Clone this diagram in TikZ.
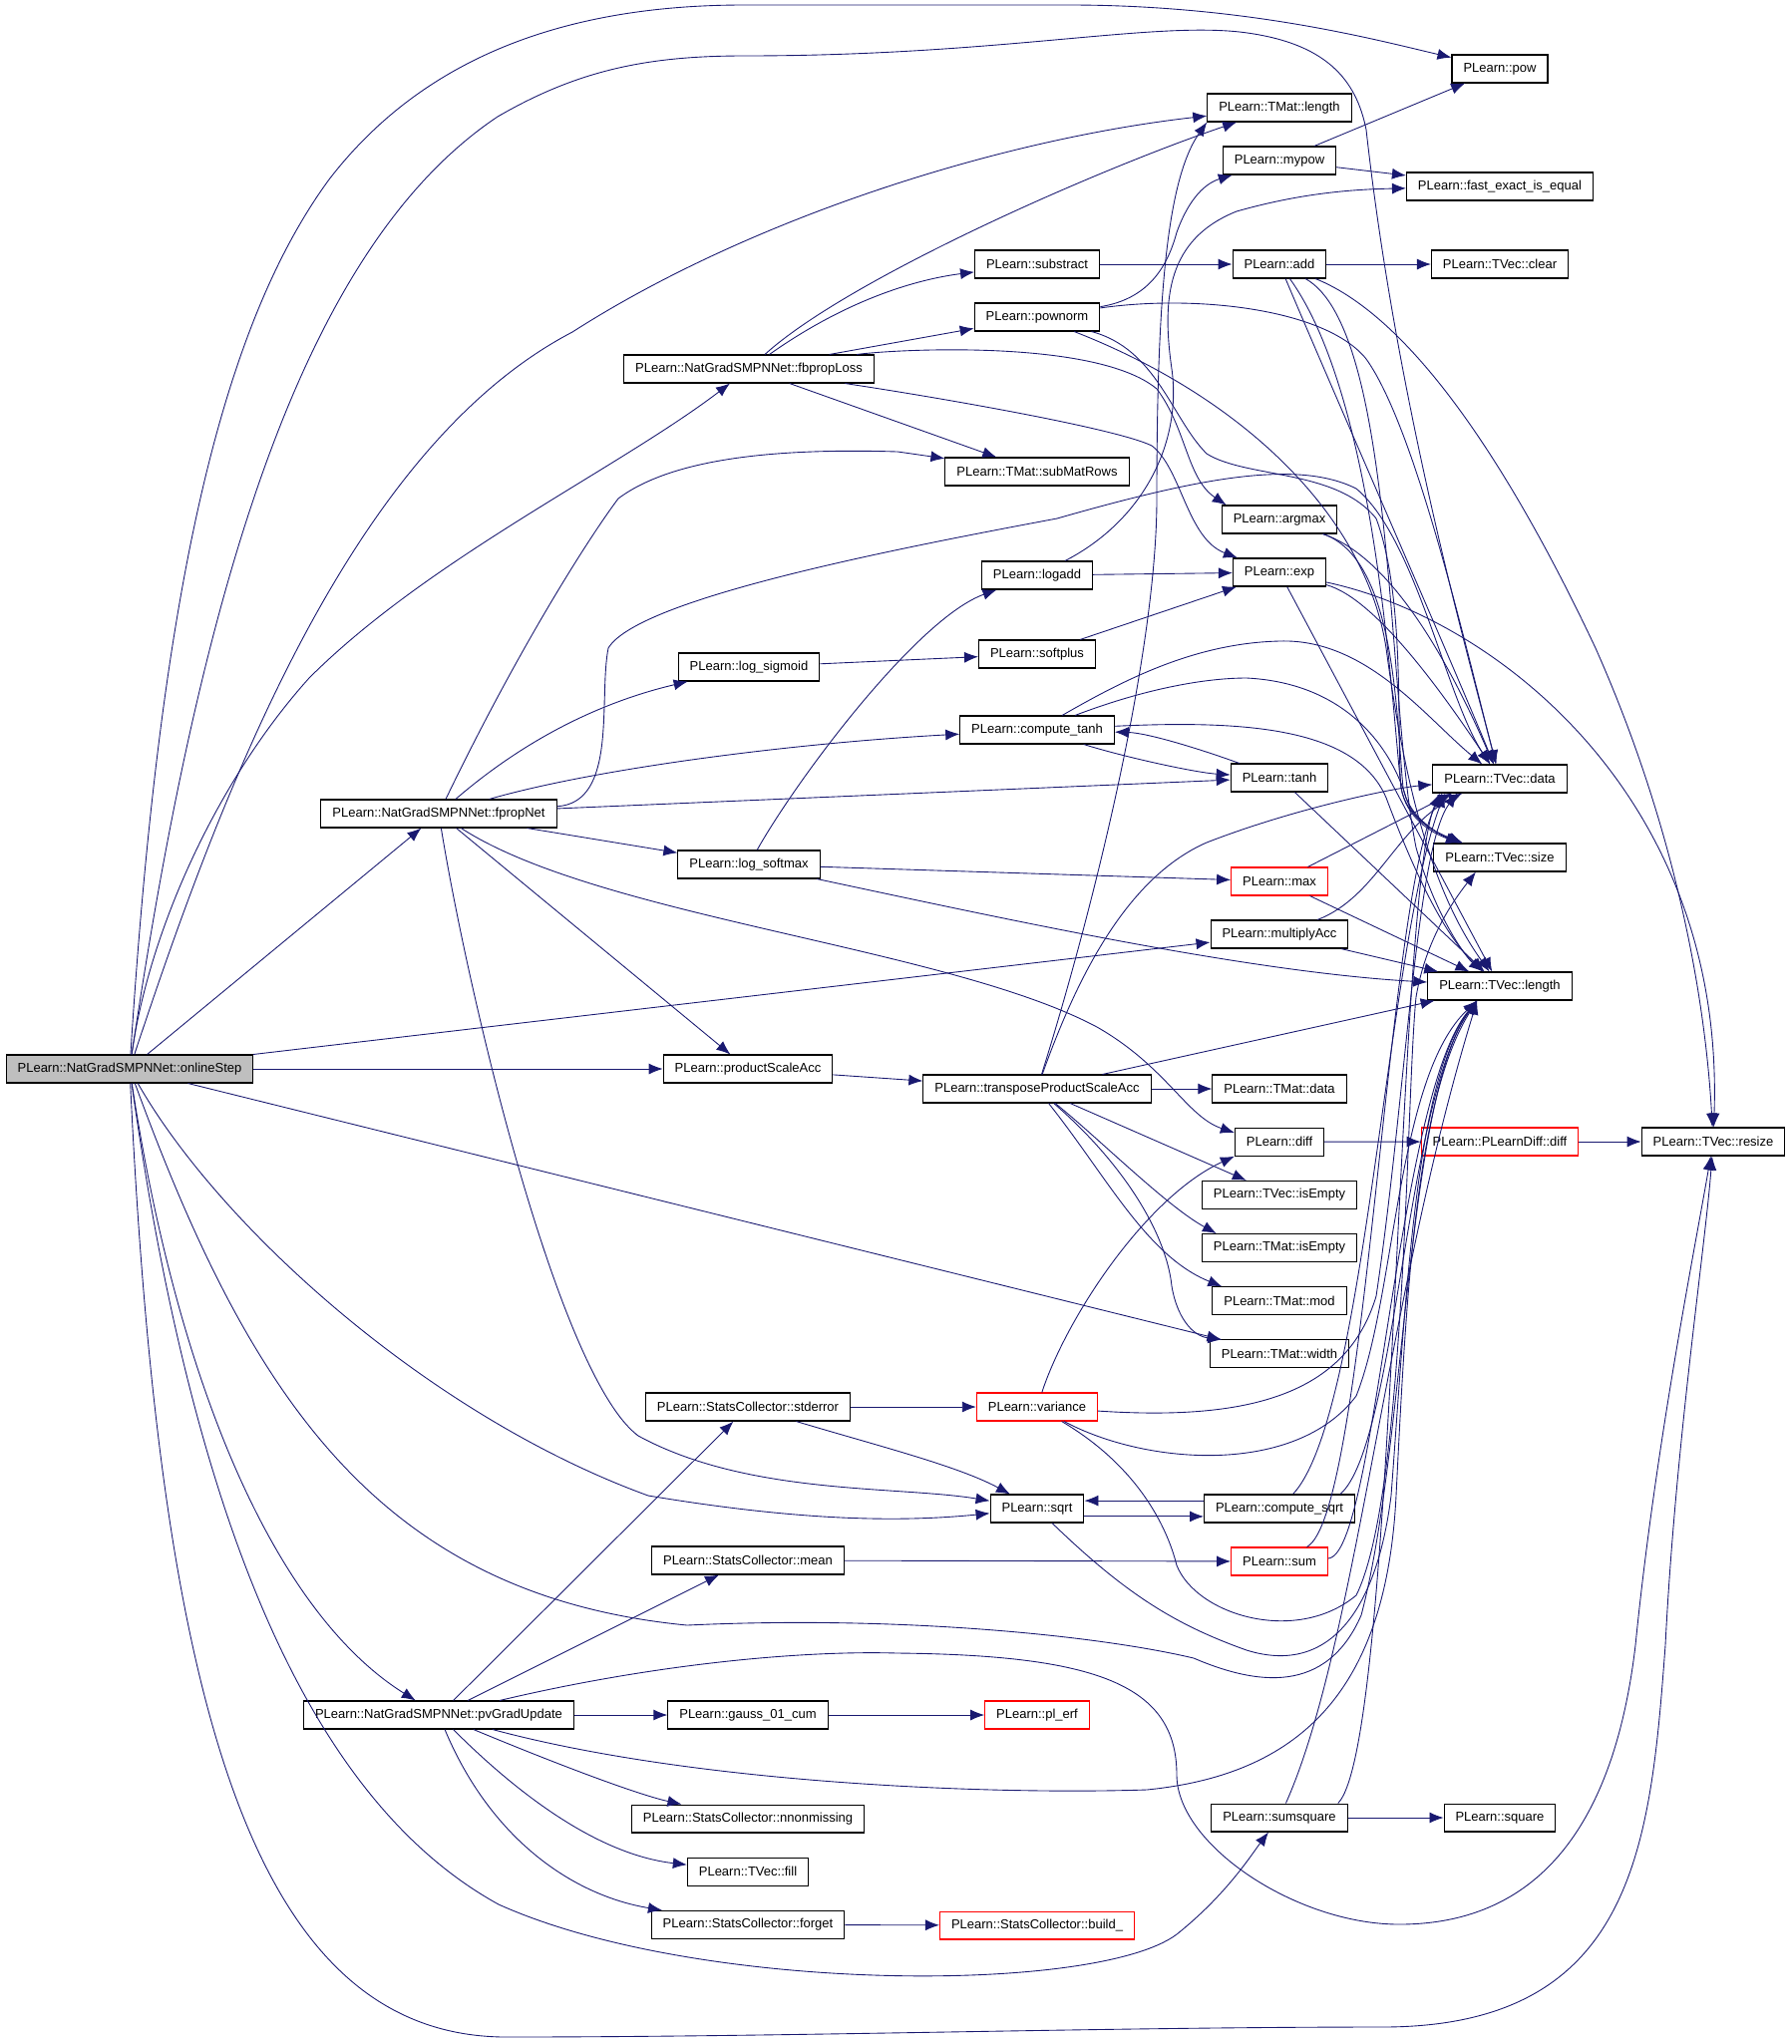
\documentclass[tikz,border=0pt]{standalone}
\usepackage{fontspec}
\newfontfamily\graphfont{Liberation Sans}
\usetikzlibrary{arrows.meta,positioning}
\definecolor{edgeblue}{HTML}{191970}
\definecolor{boxred}{HTML}{FF0000}

\begin{document}
\begin{tikzpicture}[x = 0.02cm, y = -0.02cm, -{Latex[length=2.8mm, width=2.2mm]}, node distance = 1.064cm, on grid,
  fn/.style = {draw = black, fill = white, line width = 0.6pt, font = \graphfont\fontsize{7.4}{9}\selectfont, inner xsep = 0.23cm, inner ysep = 0pt, minimum height = 0.56cm},
  fnred/.style = {fn, draw = boxred},
  call/.style = {draw = edgeblue, line width = 0.5pt},
  every edge/.style = {call}]
\useasboundingbox (0,0) rectangle (1797,2050);

\node[fn, fill = black!25] (onlineStep) at (130,1072) {PLearn::NatGradSMPNNet::onlineStep};
\node[fn] (fbpropLoss) at (751,370) {PLearn::NatGradSMPNNet::fbpropLoss};
\node[fn] (fpropNet) at (440,816) {PLearn::NatGradSMPNNet::fpropNet};
\node[fn] (pvGradUpdate) at (440,1720) {PLearn::NatGradSMPNNet::pvGradUpdate};
\node[fn] (logSigmoid) at (751,669) {PLearn::log\_sigmoid};
\node[fn] (logSoftmax) at (751,867) {PLearn::log\_softmax};
\node[fn] (productScaleAcc) at (750,1072) {PLearn::productScaleAcc};
\node[fn] (stderror) at (750,1411) {PLearn::StatsCollector::stderror};
\node[fn] (mean) at (750,1565) {PLearn::StatsCollector::mean};
\node[fn] (gaussCum) at (750,1720) {PLearn::gauss\_01\_cum};
\node[fn] (nnonmissing) at (750,1824) {PLearn::StatsCollector::nnonmissing};
\node[fn, below of = nnonmissing] (vecFill) {PLearn::TVec::fill};
\node[fn, below of = vecFill] (forget) {PLearn::StatsCollector::forget};
\node[fn] (substract) at (1040,265) {PLearn::substract};
\node[fn] (pownorm) at (1040,318) {PLearn::pownorm};
\node[fn] (subMatRows) at (1040,473) {PLearn::TMat::subMatRows};
\node[fn] (logadd) at (1040,577) {PLearn::logadd};
\node[fn] (softplus) at (1040,656) {PLearn::softplus};
\node[fn] (computeTanh) at (1040,732) {PLearn::compute\_tanh};
\node[fn] (transposePSA) at (1040,1092) {PLearn::transposeProductScaleAcc};
\node[fnred] (variance) at (1040,1411) {PLearn::variance};
\node[fn] (sqrt) at (1040,1513) {PLearn::sqrt};
\node[fnred] (plErf) at (1040,1720) {PLearn::pl\_erf};
\node[fnred] (build) at (1040,1931) {PLearn::StatsCollector::build\_};
\node[fn] (matLength) at (1283,108) {PLearn::TMat::length};
\node[fn] (mypow) at (1283,161) {PLearn::mypow};
\node[fn] (add) at (1283,265) {PLearn::add};
\node[fn] (argmax) at (1283,521) {PLearn::argmax};
\node[fn] (exp) at (1283,574) {PLearn::exp};
\node[fn] (tanh) at (1283,780) {PLearn::tanh};
\node[fnred] (max) at (1283,884) {PLearn::max};
\node[fn] (multiplyAcc) at (1283,937) {PLearn::multiplyAcc};
\node[fn] (matData) at (1283,1092) {PLearn::TMat::data};
\node[fn, below of = matData] (diff) {PLearn::diff};
\node[fn, below of = diff] (vecIsEmpty) {PLearn::TVec::isEmpty};
\node[fn, below of = vecIsEmpty] (matIsEmpty) {PLearn::TMat::isEmpty};
\node[fn, below of = matIsEmpty] (matMod) {PLearn::TMat::mod};
\node[fn, below of = matMod] (matWidth) {PLearn::TMat::width};
\node[fn] (computeSqrt) at (1283,1513) {PLearn::compute\_sqrt};
\node[fnred] (sum) at (1283,1566) {PLearn::sum};
\node[fn] (sumsquare) at (1283,1823) {PLearn::sumsquare};
\node[fn] (pow) at (1504,69) {PLearn::pow};
\node[fn] (fastEqual) at (1504,187) {PLearn::fast\_exact\_is\_equal};
\node[fn] (vecClear) at (1504,265) {PLearn::TVec::clear};
\node[fn] (vecData) at (1504,781) {PLearn::TVec::data};
\node[fn] (vecSize) at (1504,860) {PLearn::TVec::size};
\node[fn] (vecLength) at (1504,989) {PLearn::TVec::length};
\node[fnred] (plearnDiff) at (1504,1145) {PLearn::PLearnDiff::diff};
\node[fn] (square) at (1504,1823) {PLearn::square};
\node[fn] (vecResize) at (1718,1145) {PLearn::TVec::resize};

\draw[call] (onlineStep) .. controls (160,600) and (220,330) .. (330,180) .. controls (430,50) and (580,5) .. (746,5) -- (1072,5) .. controls (1250,5) and (1380,40) .. (pow);
\draw[call] (onlineStep) .. controls (200,600) and (300,250) .. (499,117) .. controls (580,70) and (650,56) .. (746,56) .. controls (1000,56) and (1150,22) .. (1243,32) .. controls (1330,42) and (1360,80) .. (1370,130) .. controls (1400,400) and (1470,650) .. (vecData);
\draw[call] (onlineStep) .. controls (220,800) and (350,450) .. (574,333) .. controls (750,220) and (1000,140) .. (matLength);
\draw[call] (onlineStep) .. controls (150,930) and (220,780) .. (310,680) .. controls (430,560) and (620,470) .. (fbpropLoss);
\path (onlineStep) edge (fpropNet);
\path (onlineStep) edge (multiplyAcc);
\path (onlineStep) edge (productScaleAcc);
\path (onlineStep) edge (matWidth);
\draw[call] (onlineStep) .. controls (220,1230) and (430,1420) .. (650,1500) .. controls (800,1525) and (900,1527) .. (sqrt);
\draw[call] (onlineStep) .. controls (250,1400) and (380,1600) .. (689,1630) .. controls (900,1620) and (1100,1640) .. (1197,1663) .. controls (1260,1690) and (1330,1700) .. (1365,1620) .. controls (1410,1450) and (1410,1100) .. ([xshift=1cm]vecLength.south west);
\draw[call] (onlineStep) .. controls (180,1400) and (280,1620) .. (pvGradUpdate);
\draw[call] (onlineStep) .. controls (190,1500) and (300,1800) .. (500,1910) .. controls (700,2000) and (1100,2000) .. (1180,1940) .. controls (1230,1900) and (1255,1860) .. (sumsquare);
\draw[call] (onlineStep) .. controls (160,1700) and (250,2040) .. (505,2043) .. controls (800,2043) and (1100,2033) .. (1386,2033) .. controls (1640,2033) and (1655,1850) .. (1670,1650) .. controls (1680,1450) and (1710,1250) .. (vecResize);

\draw[call] (fbpropLoss) .. controls (850,280) and (1100,170) .. (matLength);
\draw[call] (fbpropLoss) .. controls (850,300) and (920,280) .. (substract);
\path (fbpropLoss) edge (pownorm);
\path (fbpropLoss) edge (subMatRows);
\draw[call] (fbpropLoss) .. controls (900,350) and (1100,340) .. (1160,390) .. controls (1190,430) and (1190,480) .. ([xshift=0.1cm]argmax.north west);
\draw[call] (fbpropLoss) .. controls (950,400) and (1120,430) .. (1155,447) .. controls (1185,470) and (1190,540) .. ([xshift=0.1cm]exp.north west);

\draw[call] (fpropNet) .. controls (520,650) and (590,540) .. (620,500) .. controls (680,455) and (800,450) .. (900,453) -- (subMatRows);
\draw[call] (fpropNet) .. controls (540,730) and (620,700) .. (logSigmoid);
\draw[call] (fpropNet) .. controls (600,770) and (800,745) .. (computeTanh);
\draw[call] (fpropNet) .. controls (620,805) and (600,700) .. (610,650) .. controls (640,600) and (900,550) .. (1060,520) .. controls (1200,480) and (1300,460) .. (1360,490) .. controls (1420,540) and (1450,700) .. (vecData);
\path (fpropNet) edge (tanh);
\path (fpropNet) edge (logSoftmax);
\draw[call] (fpropNet) .. controls (600,920) and (950,950) .. (1100,1030) .. controls (1170,1070) and (1190,1120) .. ([yshift=-3pt]diff.north west);
\path (fpropNet) edge (productScaleAcc);
\draw[call] (fpropNet) .. controls (470,1000) and (560,1380) .. (640,1440) .. controls (750,1500) and (900,1490) .. (sqrt);

\path (logSigmoid) edge (softplus);
\draw[call] (logSoftmax) .. controls (800,780) and (920,620) .. (logadd);
\path (logSoftmax) edge (max);
\draw[call] (logSoftmax) .. controls (1000,920) and (1250,975) .. (vecLength);
\path (logadd) edge (exp);
\draw[call] (logadd) .. controls (1150,520) and (1185,440) .. (1175,370) .. controls (1165,300) and (1170,240) .. (1240,212) .. controls (1300,195) and (1350,190) .. (fastEqual);
\path (softplus) edge (exp);

\path (substract) edge (add);
\draw[call] (pownorm) .. controls (1150,300) and (1170,270) .. (1180,233) .. controls (1190,205) and (1205,185) .. (mypow);
\draw[call] (pownorm) .. controls (1200,295) and (1330,310) .. (1370,360) .. controls (1420,430) and (1470,650) .. (vecData);
\draw[call] (pownorm) .. controls (1160,350) and (1175,420) .. (1210,455) .. controls (1250,480) and (1340,470) .. (1380,520) .. controls (1410,600) and (1400,740) .. (1405,790) .. controls (1410,820) and (1440,835) .. (vecSize);
\draw[call] (pownorm) .. controls (1250,400) and (1370,520) .. (1390,650) .. controls (1410,800) and (1440,900) .. (vecLength);
\path (mypow) edge (pow);
\path (mypow) edge (fastEqual);

\path (add) edge (vecClear);
\draw[call] (add) .. controls (1340,400) and (1450,650) .. (vecData);
\draw[call] (add) .. controls (1380,400) and (1395,700) .. (1405,790) .. controls (1410,820) and (1435,835) .. (vecSize);
\draw[call] (add) .. controls (1400,330) and (1390,700) .. (1420,850) .. controls (1440,920) and (1470,960) .. (vecLength);
\draw[call] (add) .. controls (1420,320) and (1520,480) .. (1600,650) .. controls (1680,830) and (1710,1000) .. (vecResize);

\draw[call] (argmax) .. controls (1400,560) and (1460,680) .. (vecData);
\draw[call] (argmax) .. controls (1400,560) and (1400,720) .. (1407,790) .. controls (1412,820) and (1445,838) .. (vecSize);
\draw[call] (exp) .. controls (1380,600) and (1450,700) .. (vecData);
\draw[call] (exp) .. controls (1500,620) and (1730,800) .. (vecResize);
\path (exp) edge (vecLength);

\draw[call] (computeTanh) .. controls (1130,760) and (1200,775) .. (tanh);
\draw[call] (tanh) .. controls (1200,750) and (1150,735) .. (computeTanh);
\draw[call] (computeTanh) .. controls (1130,680) and (1200,645) .. (1283,643) .. controls (1370,640) and (1430,720) .. (vecData);
\draw[call] (computeTanh) .. controls (1150,690) and (1210,680) .. (1250,680) .. controls (1350,685) and (1395,750) .. (1410,800) .. controls (1418,825) and (1440,835) .. (vecSize);
\draw[call] (computeTanh) .. controls (1250,722) and (1360,730) .. (1390,800) .. controls (1420,880) and (1450,940) .. (vecLength);
\path (tanh) edge (vecLength);
\path (max) edge ([xshift=0.4cm]vecData.south west);
\path (max) edge (vecLength);
\draw[call] (multiplyAcc) .. controls (1380,900) and (1400,830) .. ([xshift=0.6cm]vecData.south west);
\path (multiplyAcc) edge (vecLength);

\path (productScaleAcc) edge (transposePSA);
\draw[call] (transposePSA) .. controls (1100,900) and (1160,650) .. (1160,500) .. controls (1160,300) and (1170,180) .. (matLength.south west);
\draw[call] (transposePSA) .. controls (1080,980) and (1130,880) .. (1210,845) .. controls (1300,810) and (1400,790) .. (vecData);
\path (transposePSA) edge (vecLength);
\path (transposePSA) edge (matData);
\path (transposePSA) edge (vecIsEmpty);
\draw[call] (transposePSA) .. controls (1100,1140) and (1170,1210) .. ([xshift=0.3cm]matIsEmpty.north west);
\draw[call] (transposePSA) .. controls (1110,1180) and (1150,1260) .. ([xshift=0.2cm]matMod.north west);
\draw[call] (transposePSA) .. controls (1130,1170) and (1170,1240) .. (1175,1290) .. controls (1180,1320) and (1195,1340) .. ([xshift=0.25cm]matWidth.north west);
\path (diff) edge (plearnDiff);
\path (plearnDiff) edge (vecResize);

\path (stderror) edge (variance);
\draw[call] (stderror) .. controls (880,1450) and (960,1470) .. (sqrt);
\draw[call] (variance) .. controls (1070,1320) and (1150,1200) .. (diff.south west);
\draw[call] (variance) .. controls (1250,1425) and (1350,1400) .. (1380,1300) .. controls (1410,1100) and (1420,850) .. ([xshift=0.5cm]vecData.south west);
\draw[call] (variance) .. controls (1150,1470) and (1300,1480) .. (1360,1400) .. controls (1400,1300) and (1400,1080) .. ([xshift=1cm]vecLength.south west);
\draw[call] (variance) .. controls (1140,1470) and (1170,1530) .. (1180,1570) .. controls (1200,1620) and (1300,1650) .. (1360,1600) .. controls (1410,1500) and (1410,1100) .. (1420,1000) .. controls (1430,940) and (1460,900) .. ([xshift=0.85cm]vecSize.south west);
\path ([yshift=-4.5pt]sqrt.east) edge ([yshift=-4.5pt]computeSqrt.west);
\path ([yshift=4.5pt]computeSqrt.west) edge ([yshift=4.5pt]sqrt.east);
\draw[call] (sqrt) .. controls (1130,1600) and (1180,1630) .. (1250,1655) .. controls (1330,1680) and (1380,1620) .. (1395,1500) .. controls (1410,1300) and (1420,1080) .. ([xshift=1cm]vecLength.south west);
\draw[call] (computeSqrt) .. controls (1370,1420) and (1390,950) .. ([xshift=0.25cm]vecData.south west);
\draw[call] ([xshift=-0.3cm]computeSqrt.north east) .. controls (1400,1450) and (1410,1100) .. ([xshift=1cm]vecLength.south west);
\path (mean) edge (sum);
\draw[call] (sum) .. controls (1370,1520) and (1390,900) .. ([xshift=0.2cm]vecData.south west);
\draw[call] (sum) .. controls (1380,1560) and (1400,1100) .. ([xshift=1cm]vecLength.south west);

\path (pvGradUpdate) edge (stderror);
\path (pvGradUpdate) edge (mean);
\draw[call] (pvGradUpdate) .. controls (650,1670) and (800,1655) .. (900,1658) .. controls (1100,1660) and (1180,1690) .. (1180,1780) .. controls (1180,1850) and (1300,1930) .. (1403,1930) .. controls (1550,1930) and (1620,1820) .. (1640,1650) .. controls (1660,1450) and (1700,1250) .. (vecResize);
\path (pvGradUpdate) edge (gaussCum);
\draw[call] (pvGradUpdate) .. controls (700,1790) and (1000,1800) .. (1150,1795) .. controls (1300,1780) and (1390,1700) .. (1400,1500) .. controls (1410,1300) and (1420,1100) .. ([xshift=1cm]vecLength.south west);
\draw[call] (pvGradUpdate) .. controls (560,1770) and (640,1800) .. (nnonmissing);
\draw[call] (pvGradUpdate) .. controls (520,1800) and (600,1860) .. (vecFill);
\draw[call] (pvGradUpdate) .. controls (490,1840) and (570,1900) .. (forget);
\path (gaussCum) edge (plErf);
\path (forget) edge (build);
\path (sumsquare) edge (square);
\draw[call] (sumsquare) .. controls (1360,1650) and (1390,1300) .. ([xshift=1cm]vecLength.south west);
\draw[call] ([xshift=-0.2cm]sumsquare.north east) .. controls (1400,1750) and (1400,900) .. ([xshift=0.15cm]vecData.south west);
\end{tikzpicture}
\end{document}
